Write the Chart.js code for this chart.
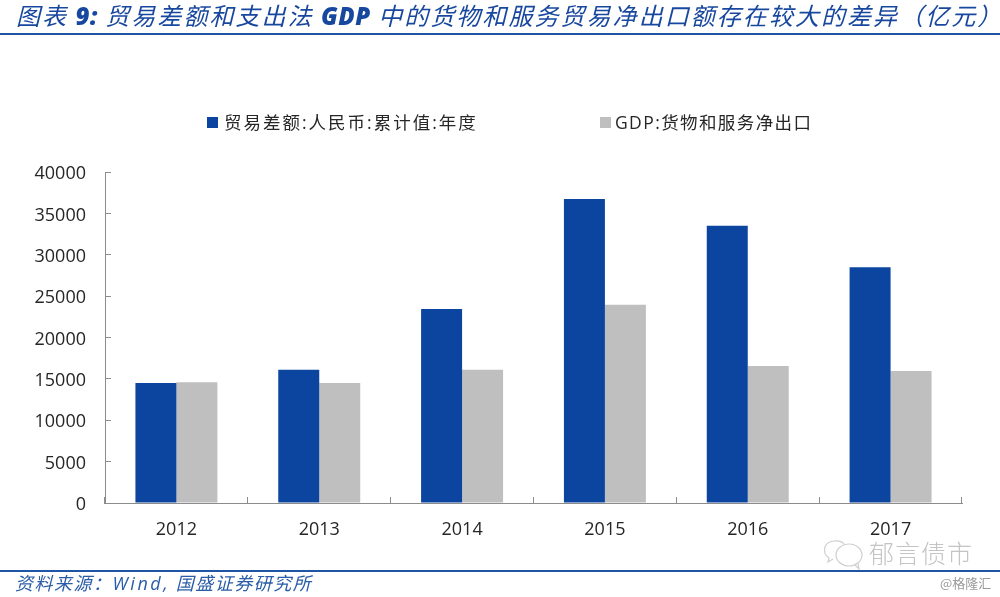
<!DOCTYPE html>
<html>
<head>
<meta charset="utf-8">
<script src="https://cdn.jsdelivr.net/npm/chart.js@4"></script>
<style>
  html, body { margin: 0; padding: 0; background: #fff; }
  #page { position: relative; width: 1000px; height: 597px; overflow: hidden; font-family: "Open Sans", "Noto Sans CJK SC", sans-serif; }
  #page div, #page span { position: absolute; white-space: nowrap; }
  canvas { position: absolute; left: 0; top: 0; }
  .rule { left: 0; width: 1000px; height: 2px; background: #1f55a5; }
  #title { left: 16px; top: 0; font-size: 24px; line-height: 30px; font-style: italic; font-weight: 400; color: #17479e; letter-spacing: 2.05px; font-family: "Noto Sans CJK SC", sans-serif; }
  #title b { font-family: "Open Sans", sans-serif; font-weight: 800; letter-spacing: 0.5px; }
  #source { left: 15px; top: 570px; font-size: 18px; line-height: 24px; font-style: italic; color: #2a5ca8; letter-spacing: 1.5px; font-family: "Noto Sans CJK SC", sans-serif; }
  #source i { font-family: "Open Sans", sans-serif; letter-spacing: 2.5px; }
  .key { width: 11px; height: 11px; top: 117px; }
  .keytext { top: 109px; font-size: 17.5px; line-height: 26px; color: #262626; }
  #mark { left: 869px; top: 535px; font-size: 25px; line-height: 34px; color: #c4c4c4; letter-spacing: 1px; font-weight: 300; font-family: "Noto Sans CJK SC", sans-serif; }
  #credit { left: 940px; top: 574px; font-size: 13px; line-height: 18px; color: #9a9a9a; font-family: "Noto Sans CJK SC", sans-serif; }
</style>
</head>
<body>
<div id="page">
  <canvas id="chart" width="1000" height="597"></canvas>
  <div id="title">图表 <b>9:</b> 贸易差额和支出法 <b>GDP</b> 中的货物和服务贸易净出口额存在较大的差异（亿元）</div>
  <div class="rule" style="top:33px"></div>
  <div class="key" id="key0" style="left:207px"></div>
  <div class="keytext" id="text0" style="left:224px;letter-spacing:2px"></div>
  <div class="key" id="key1" style="left:600px"></div>
  <div class="keytext" id="text1" style="left:615px;letter-spacing:1.4px"></div>
  <svg style="position:absolute;left:822px;top:538px" width="42" height="32" fill="none" stroke="#cfcfcf" stroke-width="1.2">
    <path d="M22 6c-3-4-16-5-19 3-2 6 1 9 4 11l-1 4 5-3"/>
    <ellipse cx="27" cy="17" rx="13" ry="11"/>
    <path d="M33 27l4 4-1-6"/>
  </svg>
  <div id="mark">郁言债市</div>
  <div class="rule" style="top:570px"></div>
  <div id="source">资料来源：<i>Wind,</i> 国盛证券研究所</div>
  <div id="credit">@格隆汇</div>
</div>
<script>
const BLUE = "#0b459f";
const GRAY = "#bfbfbf";

const years = ["2012", "2013", "2014", "2015", "2016", "2017"];
const tradeBalance = [14500, 16100, 23450, 36750, 33500, 28500];
const gdpNetExports = [14600, 14500, 16100, 23950, 16550, 15950];
const seriesNames = ["贸易差额:人民币:累计值:年度", "GDP:货物和服务净出口"];

// legend sits far wider than Chart.js would space it, so it's built in the page
[BLUE, GRAY].forEach((color, i) => {
  document.getElementById("key" + i).style.background = color;
  document.getElementById("text" + i).textContent = seriesNames[i];
});

const tickFont = { family: "'Open Sans', sans-serif", size: 18 };

new Chart(document.getElementById("chart"), {
  type: "bar",
  data: {
    labels: years,
    datasets: [
      { label: seriesNames[0], data: tradeBalance, backgroundColor: BLUE },
      { label: seriesNames[1], data: gdpNetExports, backgroundColor: GRAY }
    ]
  },
  options: {
    responsive: false,
    animation: false,
    layout: { padding: { left: 0, right: 38, top: 172, bottom: 0 } },
    plugins: { legend: { display: false }, tooltip: { enabled: false } },
    datasets: { bar: { barPercentage: 1, categoryPercentage: 0.574 } },
    scales: {
      x: {
        afterFit: axis => { axis.height = 94; },
        grid: { drawOnChartArea: false, tickLength: -6, color: "#8c8c8c" },
        border: { color: "#8c8c8c" },
        ticks: { color: "#262626", font: tickFont, padding: 22, maxRotation: 0 }
      },
      y: {
        min: 0,
        max: 40000,
        afterFit: axis => { axis.width = 105; },
        grid: { drawOnChartArea: false, tickLength: -6, color: "#8c8c8c" },
        border: { color: "#8c8c8c" },
        ticks: { stepSize: 5000, color: "#262626", font: tickFont, padding: 25, labelOffset: 2, format: { useGrouping: false } }
      }
    }
  }
});
</script>
</body>
</html>
